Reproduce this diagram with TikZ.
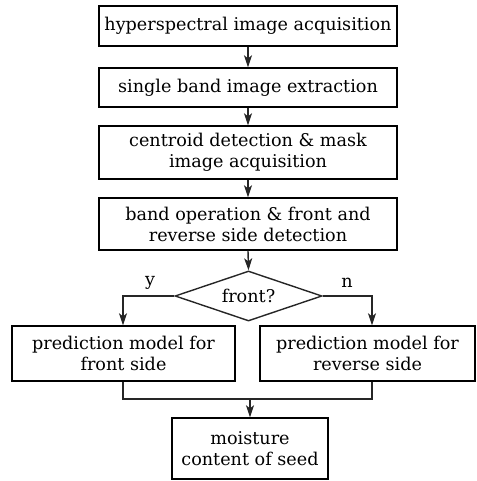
\documentclass[tikz,border=0pt]{standalone}
\usepackage{fontspec}
\setmainfont{DejaVu Serif}
\usetikzlibrary{shapes.geometric,arrows.meta}
\begin{document}
\begin{tikzpicture}[x=1pt,y=-1pt,
  every node/.style={font=\fontsize{17.6}{21}\selectfont},
  procbox/.style={draw=black,line width=1.4pt,align=center,inner sep=0pt},
  decbox/.style={draw=black!85,line width=1.4pt,shape=diamond,inner sep=0pt,minimum width=147pt,minimum height=50pt,aspect=2.94},
  conn/.style={draw=black!85,line width=1.4pt},
  arr/.style={conn,-{Stealth[length=12pt,width=8pt,inset=3pt]}}]
\useasboundingbox (0,0) rectangle (476,481);
\node[procbox,minimum width=298pt,minimum height=40pt] (b1) at (248,26) {hyperspectral image acquisition};
\node[procbox,minimum width=298pt,minimum height=39pt] (b2) at (248,87.5) {single band image extraction};
\node[procbox,minimum width=298pt,minimum height=53pt] (b3) at (248,152.5) {centroid detection \& mask\\image acquisition};
\node[procbox,minimum width=298pt,minimum height=52pt] (b4) at (248,224) {band operation \& front and\\reverse side detection};
\node[decbox] (d) at (248.5,296) {front?};
\node[procbox,minimum width=223pt,minimum height=55pt] (b5) at (123.5,353.5) {prediction model for\\front side};
\node[procbox,minimum width=215pt,minimum height=55pt] (b6) at (367.5,353.5) {prediction model for\\reverse side};
\node[procbox,minimum width=156pt,minimum height=61pt] (b7) at (250,448.5) {moisture\\content of seed};
\node (ly) at (150,283) {y};
\node (ln) at (347,283) {n};
\coordinate (l) at (123,296);
\coordinate (r) at (372,296);
\coordinate (ml) at (123,399);
\coordinate (mr) at (372,399);
\coordinate (mc) at (250,399);
\draw[arr] (b1.south) -- (b2.north);
\draw[arr] (b2.south) -- (b3.north);
\draw[arr] (b3.south) -- (b4.north);
\draw[arr] (b4.south) -- (d.north);
\draw[arr] (d.west) -- (l) -- (l |- b5.north);
\draw[arr] (d.east) -- (r) -- (r |- b6.north);
\draw[conn] (ml |- b5.south) -- (ml) -- (mr) -- (mr |- b6.south);
\draw[arr] (mc) -- (b7.north);
\end{tikzpicture}
\end{document}
